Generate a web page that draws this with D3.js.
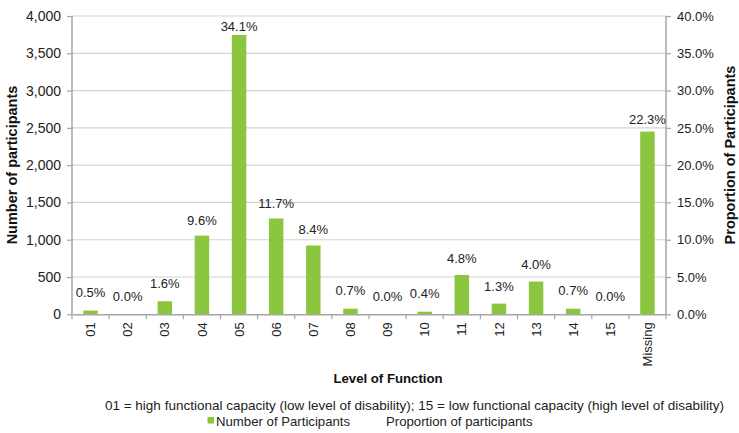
<!DOCTYPE html>
<html><head><meta charset="utf-8">
<script src="https://cdn.jsdelivr.net/npm/d3@7/dist/d3.min.js"></script>
<style>
body{margin:0;background:#fff;}
svg{font-family:"Liberation Sans",Arial,sans-serif;}
</style></head>
<body><svg id="c" width="739" height="433"></svg>
<script>
const categories = ["01","02","03","04","05","06","07","08","09","10","11","12","13","14","15","Missing"];
const counts = [50,0,175,1055,3745,1285,922,75,0,35,527,143,439,75,0,2450];
const proportions = [0.005,0.000,0.016,0.096,0.341,0.117,0.084,0.007,0.000,0.004,0.048,0.013,0.040,0.007,0.000,0.223];
const leftTicks = [0,500,1000,1500,2000,2500,3000,3500,4000];
const rightTicks = [0,0.05,0.10,0.15,0.20,0.25,0.30,0.35,0.40];

const svg = d3.select("#c");
const m = {l:72, r:666, t:16, b:314.3};
const x = d3.scaleBand().domain(categories).range([m.l, m.r]).padding(0);
const yL = d3.scaleLinear().domain([0,4000]).range([m.b, m.t]);
const yR = d3.scaleLinear().domain([0,0.4]).range([m.b, m.t]);
// hidden line series (proportion) plotted on its own auto-scaled axis
const yH = d3.scaleLinear().domain([0,0.377]).range([m.b, m.t]);

const axisColor = "#a6a6a6", gridColor = "#d4d4d4", barColor = "#8cc63f";

// gridlines
svg.append("g").selectAll("line").data(leftTicks.slice(1)).join("line")
  .attr("x1", m.l).attr("x2", m.r)
  .attr("y1", d=>yL(d)).attr("y2", d=>yL(d))
  .attr("stroke", gridColor).attr("stroke-width",1.2);

// bars
const bw = x.bandwidth()*0.39;
svg.append("g").selectAll("rect").data(categories).join("rect")
  .attr("x", (d,i)=>x(d)+x.bandwidth()/2-bw/2)
  .attr("y", (d,i)=>yL(counts[i]))
  .attr("width", bw)
  .attr("height", (d,i)=>yL(0)-yL(counts[i]))
  .attr("fill", barColor);

// left axis
const gl = svg.append("g").attr("transform",`translate(${m.l},0)`)
  .call(d3.axisLeft(yL).tickValues(leftTicks).tickSize(5).tickPadding(6).tickFormat(d3.format(",")));
// right axis
const gr = svg.append("g").attr("transform",`translate(${m.r},0)`)
  .call(d3.axisRight(yR).tickValues(rightTicks).tickSize(5).tickPadding(6).tickFormat(d3.format(".1%")));
// bottom axis
const gb = svg.append("g").attr("transform",`translate(0,${m.b})`)
  .call(d3.axisBottom(x).tickSize(0).tickPadding(8));
gb.selectAll(".tick text")
  .attr("transform","rotate(-90)").attr("text-anchor","end")
  .attr("x",-8).attr("y",0).attr("dy","0.35em");
// bottom tick marks between categories
const bounds = categories.map(c=>x(c)).concat([m.r]);
gb.append("g").selectAll("line").data(bounds).join("line")
  .attr("x1",d=>d).attr("x2",d=>d).attr("y1",0).attr("y2",5)
  .attr("stroke",axisColor).attr("stroke-width",1.2);

[gl,gr,gb].forEach(g=>{
  g.select(".domain").attr("stroke",axisColor).attr("stroke-width",1.5);
  g.selectAll(".tick line").attr("stroke",axisColor).attr("stroke-width",1.2);
  g.selectAll(".tick text").attr("fill","#222").attr("font-size",13)
    .attr("font-family","Liberation Sans, Arial, sans-serif");
});
gl.selectAll(".tick text").attr("font-size",14);
gl.select(".domain").attr("d",`M0,${m.b}V${m.t}`);
gr.select(".domain").attr("d",`M0,${m.b}V${m.t}`);

// data labels for proportion series
svg.append("g").selectAll("text").data(categories).join("text")
  .attr("x", d=>x(d)+x.bandwidth()/2)
  .attr("y", (d,i)=>yH(proportions[i])-18)
  .attr("dy","0.35em")
  .attr("text-anchor","middle").attr("font-size",13).attr("fill","#222")
  .text((d,i)=>d3.format(".1%")(proportions[i]));

// axis titles
svg.append("text").attr("transform",`translate(12,165) rotate(-90)`)
  .attr("text-anchor","middle").attr("font-weight","bold").attr("font-size",14.5)
  .attr("dy","0.35em").attr("fill","#111").text("Number of participants");
svg.append("text").attr("transform",`translate(730,155) rotate(-90)`)
  .attr("text-anchor","middle").attr("font-weight","bold").attr("font-size",14.5)
  .attr("dy","0.35em").attr("fill","#111").text("Proportion of Participants");
svg.append("text").attr("x",388).attr("y",382.5)
  .attr("text-anchor","middle").attr("font-weight","bold").attr("font-size",13.2)
  .attr("fill","#111").text("Level of Function");

// legend
svg.append("text").attr("x",414.5).attr("y",409.5).attr("text-anchor","middle")
  .attr("font-size",13.5).attr("fill","#222")
  .text("01 = high functional capacity (low level of disability); 15 = low functional capacity (high level of disability)");
const lg = svg.append("g");
lg.append("rect").attr("x",207.5).attr("y",417).attr("width",6.5).attr("height",6.5).attr("fill",barColor);
lg.append("text").attr("x",216).attr("y",425.5).attr("font-size",13.2).attr("fill","#222").text("Number of Participants");
lg.append("text").attr("x",386).attr("y",425.5).attr("font-size",13.2).attr("fill","#222").text("Proportion of participants");
</script></body></html>
